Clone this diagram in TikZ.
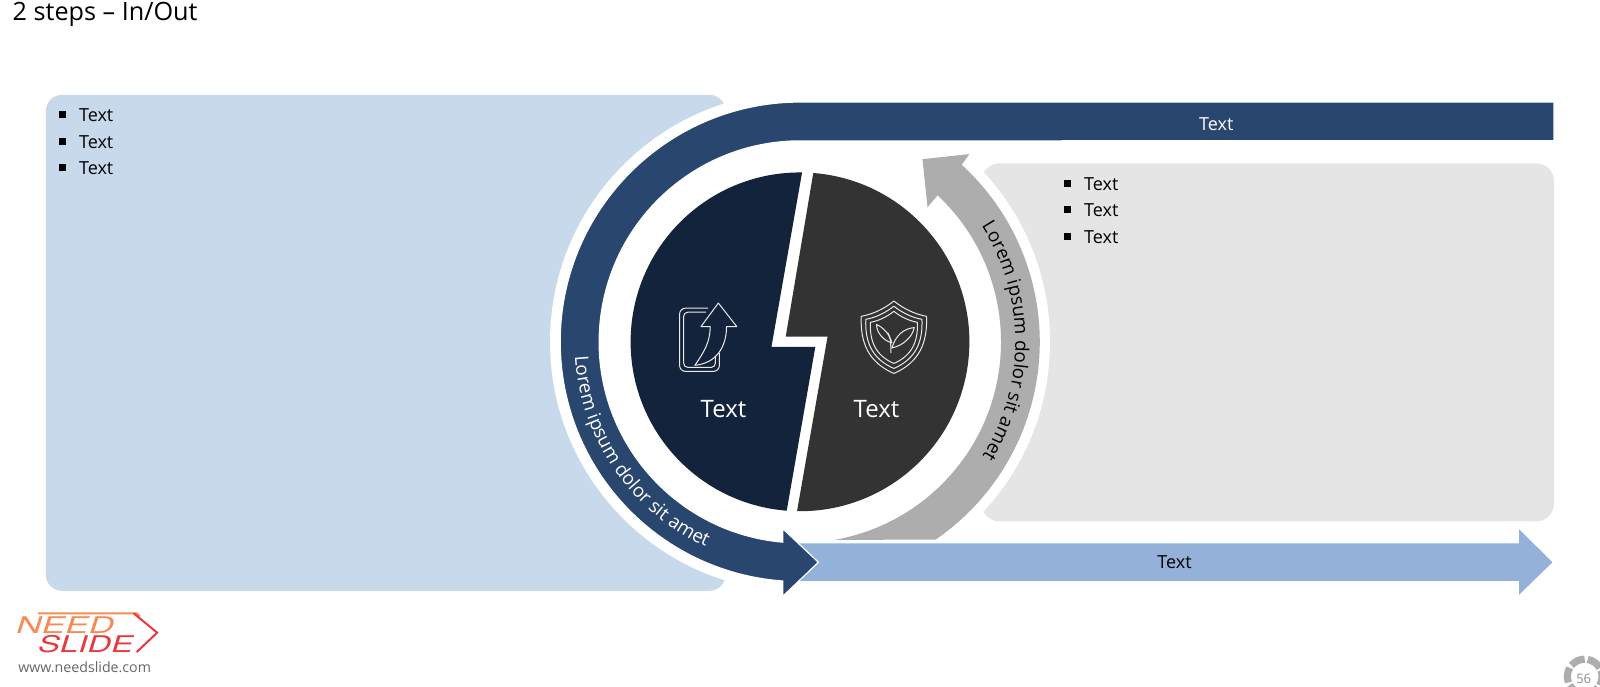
\documentclass[tikz,border=0pt]{standalone}
\usepackage{fontspec}
\setmainfont{Open Sans}
\newfontfamily\logofont{TeX Gyre Heros}
\usetikzlibrary{calc,decorations.text}
\definecolor{panelblue}{HTML}{C9D9EC}
\definecolor{panelgray}{HTML}{E5E5E5}
\definecolor{bandblue}{HTML}{29466F}
\definecolor{arrowblue}{HTML}{93B1D9}
\definecolor{arcgray}{HTML}{ADADAD}
\definecolor{pienavy}{HTML}{14233C}
\definecolor{piegray}{HTML}{333333}
\definecolor{logoorange}{HTML}{F58C55}
\definecolor{logored}{HTML}{E8383D}
\newcommand{\sqbullet}{\rule[0.18em]{0.4em}{0.4em}}
\tikzset{every picture/.style={
  x=0.510204pt,y=-0.510204pt    % Reference pixels, y going down.
  }
}

\begin{document}
\begin{tikzpicture}[
    lbl/.style={font=\fontsize{9}{11}\selectfont,inner sep=0pt},
    bigl/.style={font=\fontsize{12}{14}\selectfont,text=white,inner sep=0pt},
    item/.style={lbl,anchor=west},
    iconline/.style={draw=white!92!black,line width=0.5pt,line join=round}
    ]
    \useasboundingbox (0,0) rectangle (1568,672.3);
    \coordinate (c) at (784,335);

    \node[anchor=west,inner sep=0pt,font=\fontsize{12.6}{15}\selectfont] (title) at (12,14)
      {2 steps -- In/Out};

    % Draw the two panels, cut by the white disc.
    \fill[panelblue,rounded corners=8pt] (45,93) rectangle (711,579);
    \fill[panelgray,rounded corners=9pt] (962,160) rectangle (1523,511);
    \fill[white] (c) circle[radius=245];

    % Draw the gray arrow.
    \fill[arcgray] ($(c)+(55.6:235)$) arc[start angle=55.6,end angle=-47.6,radius=235]
      -- (950,151) -- (904,156) -- (909,203) -- ($(c)+(-46.8:197)$)
      arc[start angle=-46.8,end angle=80,radius=197] -- cycle;

    % Draw the two arrows below and around.
    \fill[arrowblue,draw=white,line width=0.6pt] (775,532) -- (1488,532) -- (1488,517)
      -- (1522.5,551) -- (1488,584.5) -- (1488,570) -- (775,570) -- cycle;
    \fill[bandblue,draw=white,line width=0.6pt] (1523,100) -- (784,100)
      arc[start angle=-90,end angle=-265.9,radius=235]
      -- (767,584.5) -- (802,551) -- (767,518) -- (767,531.3)
      arc[start angle=-265,end angle=-90,radius=197] -- (1523,138) -- cycle;

    % Draw the two halves of the disc.
    \fill[pienavy] ($(c)+(-89.3:166)$) arc[start angle=-89.3,end angle=-265.5,radius=166]
      -- (799,340) -- (756,340) -- cycle;
    \fill[piegray] ($(c)+(-85.5:166)$) arc[start angle=-85.5,end angle=91,radius=166]
      -- (811,330) -- (770,330) -- cycle;

    % Label the arrows along their arcs.
    \path[decorate,decoration={text along path,text align=center,
      text={|\fontsize{9.4}{11}\selectfont\color{white}|Lorem ipsum dolor sit amet}}]
      ($(c)+(-181:221)$) arc[start angle=-181,end angle=-248,radius=221];
    \path[decorate,decoration={text along path,text align=center,
      text={|\fontsize{9.4}{11}\selectfont|Lorem ipsum dolor sit amet}}]
      ($(c)+(-33.5:211)$) arc[start angle=-33.5,end angle=33,radius=211];

    \node[lbl,text=white] (bandtext) at (1192,122) {Text};
    \node[lbl] (arrowtext) at (1151,551) {Text};
    \node[bigl] (intext) at (709,401) {Text};
    \node[bigl] (outtext) at (859,401) {Text};

    % Bullet lists of the panels.
    \foreach \y in {113,139,165} {
      \node[item] at (57,\y) {\sqbullet\hspace{0.74em}Text};
    }
    \foreach \y in {180,206,232} {
      \node[item] at (1042,\y) {\sqbullet\hspace{0.74em}Text};
    }

    % Icon of the left half.
    \draw[iconline,rounded corners=3pt] (694,302) -- (666,302) -- (666,364) -- (705,364) -- (705,346);
    \draw[iconline,rounded corners=2pt] (692,306) -- (670,306) -- (670,360) -- (701,360) -- (701,350);
    \draw[iconline,fill=pienavy] (681,358) .. controls (690,345) and (696,335) .. (696,320)
      -- (687,320) -- (704,297) -- (722,320) -- (712,320)
      .. controls (712,340) and (702,356) .. (681,358) -- cycle;

    % Icon of the right half.
    \foreach \k in {1,0.86,0.72} {
      \draw[iconline,shift={(876,331)},scale=\k] (0,-36)
        .. controls (-10,-28) and (-21,-23) .. (-32,-21)
        .. controls (-33,5) and (-25,24) .. (0,35)
        .. controls (25,24) and (33,5) .. (32,-21)
        .. controls (21,-23) and (10,-28) .. (0,-36) -- cycle;
    }
    \begin{scope}[shift={(876,331)}]
      \draw[iconline] (-2,5) .. controls (-4,-3) and (-10,-10) .. (-17,-13)
        .. controls (-17,-5) and (-10,3) .. (-2,5) -- cycle;
      \draw[iconline] (-2,10) .. controls (2,-3) and (10,-9) .. (20,-10)
        .. controls (18,0) and (8,8) .. (-2,10) -- cycle;
      \draw[iconline] (-3,15) .. controls (-3,5) and (-3,0) .. (-6,-5);
    \end{scope}

    % Logo in the lower left corner.
    \draw[logoorange,line width=1pt] (37,601) -- (134,601) -- (137,604);
    \draw[logored,line width=1pt] (131,601) -- (154,620) -- (134,639);
    \node[xscale=1.53,text=logoorange,inner sep=0pt,
      font=\logofont\itshape\fontsize{11.5}{13}\selectfont] (need) at (64,613) {NEED};
    \node[xscale=1.43,text=logored,inner sep=0pt,
      font=\logofont\itshape\fontsize{11.5}{13}\selectfont] (slide) at (84,631) {SLIDE};
    \node[text=black!60,inner sep=0pt,font=\fontsize{7.1}{9}\selectfont] (url) at (83,654)
      {www.needslide.com};

    % Page number in the lower right corner.
    \begin{scope}
      \clip (0,0) rectangle (1568,672.3);
      \foreach \a in {-80,-20,40,100,160,220} {
        \draw[arcgray,line width=3.6pt] ($(1553,663)+(\a:17)$)
          arc[start angle=\a,end angle=\a+50,radius=17];
      }
    \end{scope}
    \node[text=black!45,inner sep=0pt,font=\fontsize{6.5}{8}\selectfont] (page) at (1552,665) {56};
  \end{tikzpicture}
\end{document}
